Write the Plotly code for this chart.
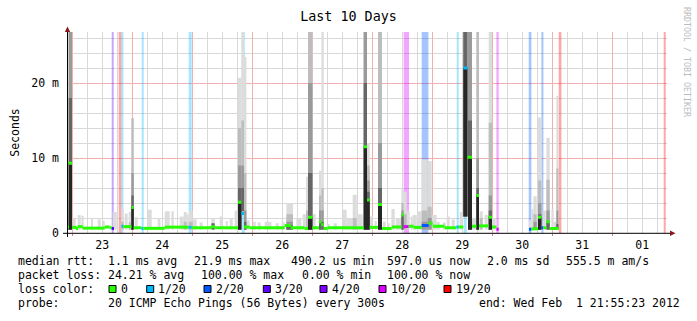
import pandas as pd
import plotly.graph_objects as go

# ---------------- geometry of the canvas ----------------
W, H = 697, 321
PL, PT, PW, PH = 67, 32, 600, 201          # plot area (px)
FONT = "DejaVu Sans Mono"

START = pd.Timestamp("2012-01-22 21:55:23")  # window start (end = +10 days)
SPAN_H = 240.0
Y_TOP_MS = 26.8

# ---------------- loss colour scale ----------------
loss_names = ["0", "1/20", "2/20", "3/20", "4/20", "10/20", "19/20"]
loss_colors = ["#26ff00", "#00b8ff", "#0059ff", "#5e00ff", "#7e00ff", "#dd00ff", "#ff0000"]

# ---------------- median rtt segments (hours since start, ms, loss index) ----------------
med_t0 = [0.0, 0.68, 2.0, 3.88, 4.28, 6.28, 15.08, 17.08, 17.88, 21.76,
          22.56, 25.76, 26.68, 29.76, 30.56, 39.08, 48.68, 49.88, 57.76, 59.08,
          68.4, 69.76, 70.8, 73.08, 87.08, 89.48, 95.08, 96.4, 98.16, 100.8,
          101.76, 102.68, 104.28, 118.68, 120.0, 121.08, 124.4, 126.0, 129.88, 133.76,
          134.68, 136.68, 138.68, 141.88, 144.68, 146.28, 151.08, 155.76, 156.68, 158.56,
          160.16, 162.0, 163.76, 164.8, 168.68, 170.0, 171.76, 184.8, 185.76, 188.4,
          189.76, 190.56, 191.76, 193.08]
med_t1 = [0.68, 2.0, 3.88, 4.28, 6.28, 15.08, 17.08, 17.88, 18.8, 22.56,
          25.76, 26.68, 29.76, 30.56, 39.08, 48.68, 49.88, 57.76, 59.08, 68.4,
          69.76, 70.8, 73.08, 87.08, 89.48, 95.08, 96.4, 98.16, 100.8, 101.76,
          102.68, 104.28, 118.68, 120.0, 121.08, 124.4, 126.0, 129.88, 133.76, 134.68,
          136.68, 138.68, 141.88, 144.68, 146.28, 151.08, 155.76, 156.68, 158.56, 160.16,
          162.0, 163.76, 164.8, 168.68, 170.0, 171.76, 172.68, 185.76, 188.4, 189.76,
          190.56, 191.76, 193.08, 196.68]
med_ms = [0.85, 9.3, 0.75, 0.6, 0.85, 0.65, 0.8, 0.7, 0.6, 0.9,
          0.85, 3.4, 0.7, 0.6, 0.62, 0.78, 0.75, 0.7, 0.85, 0.7,
          4.1, 2.6, 0.8, 0.7, 1.0, 0.7, 0.6, 2.1, 0.7, 1.5,
          1.1, 0.6, 0.7, 11.5, 4.4, 0.75, 3.8, 0.6, 0.8, 2.4,
          0.85, 0.9, 0.75, 1.0, 1.3, 0.9, 0.7, 0.8, 0.8, 22.0,
          10.1, 0.9, 5.0, 0.95, 2.1, 0.8, 0.5, 0.5, 0.55, 2.1,
          0.7, 0.7, 1.5, 0.6]
med_loss = [0, 0, 0, 0, 0, 0, 0, 0, 3, 1,
            0, 0, 0, 1, 0, 0, 1, 0, 0, 0,
            0, 1, 0, 0, 0, 0, 0, 0, 0, 0,
            0, 0, 0, 0, 0, 0, 0, 0, 0, 0,
            5, 0, 0, 2, 0, 0, 0, 1, 0, 1,
            0, 0, 0, 0, 0, 0, 5, 2, 0, 0,
            2, 0, 0, 0]

# ---------------- smoke columns (hours since start, ms levels) ----------------
smk_t0 = [0.0, 0.68, 2.28, 4.28, 5.76, 9.76, 12.28, 14.28, 18.28, 21.76,
          23.08, 24.68, 25.76, 27.08, 32.28, 36.28, 39.08, 41.76, 45.08, 46.68,
          47.88, 48.68, 50.28, 53.08, 57.76, 61.08, 63.48, 65.08, 67.08, 68.4,
          69.76, 70.8, 71.88, 74.28, 76.28, 79.08, 83.48, 85.88, 87.76, 91.76,
          94.28, 95.76, 96.4, 98.16, 100.8, 101.76, 103.88, 106.68, 110.28, 111.88,
          114.28, 115.88, 118.68, 120.0, 121.08, 123.08, 124.4, 126.28, 128.28, 129.76,
          131.48, 133.76, 134.68, 135.88, 137.48, 138.28, 140.28, 141.88, 144.28, 145.88,
          147.88, 150.28, 151.88, 153.88, 157.08, 158.56, 160.4, 162.0, 163.76, 165.08,
          167.08, 168.68, 170.0, 184.8, 185.76, 186.56, 188.4, 190.28, 191.76, 193.76,
          194.68, 195.76]
smk_t1 = [0.68, 2.0, 3.48, 5.48, 6.68, 10.4, 13.48, 15.08, 19.88, 22.68,
          24.28, 25.76, 26.68, 28.28, 33.88, 37.36, 41.08, 42.68, 46.68, 47.88,
          48.68, 50.28, 51.88, 54.28, 59.08, 62.28, 64.28, 66.28, 68.4, 69.76,
          70.8, 71.76, 73.08, 75.48, 77.48, 81.76, 84.68, 87.08, 90.4, 93.76,
          95.76, 96.4, 98.16, 99.48, 101.76, 102.68, 105.08, 107.88, 111.88, 114.28,
          115.88, 118.28, 120.0, 121.08, 122.28, 123.88, 126.0, 127.48, 129.08, 131.08,
          133.76, 134.68, 135.88, 137.08, 138.28, 139.88, 141.88, 144.28, 145.88, 147.88,
          149.08, 151.48, 153.08, 155.08, 158.28, 160.16, 162.0, 163.76, 164.8, 166.28,
          168.28, 170.0, 171.48, 185.76, 186.56, 187.88, 189.76, 191.48, 193.08, 194.68,
          195.76, 196.56]
smk_lo = [0.45, 0.45, 0.45, 0.45, 0.45, 0.45, 0.45, 0.45, 0.45, 0.45,
          0.45, 0.45, 0.45, 0.45, 0.45, 0.45, 0.45, 0.45, 0.45, 0.45,
          0.45, 0.45, 0.45, 0.45, 0.45, 0.45, 0.45, 0.45, 0.45, 0.45,
          2.9, 0.45, 0.45, 0.45, 0.45, 0.45, 0.45, 0.45, 0.45, 0.45,
          0.45, 0.45, 0.45, 0.45, 0.45, 0.45, 0.45, 0.45, 0.45, 0.45,
          0.45, 0.45, 0.45, 0.45, 0.45, 0.45, 0.45, 0.45, 0.45, 0.45,
          0.45, 0.45, 0.45, 0.45, 0.45, 0.45, 0.45, 0.45, 0.45, 0.45,
          0.45, 0.45, 0.45, 0.45, 0.45, 2.2, 0.45, 0.45, 0.45, 0.45,
          0.45, 0.45, 0.45, 0.45, 0.45, 0.45, 0.45, 0.45, 0.45, 0.45,
          0.45, 0.45]
smk_l1 = [3.1, 30, 1.9, 2.4, 2.3, 1.9, 1.8, 1.6, 2.8, 3.2,
          2.6, 2.8, 15.3, 2.1, 3.1, 2.0, 2.9, 2.9, 2.2, 2.8,
          2.5, 3.0, 1.8, 1.4, 2.0, 2.2, 1.6, 2.0, 3.0, 20.7,
          30, 23.5, 1.7, 1.5, 1.4, 1.5, 1.3, 1.4, 4.0, 2.0,
          2.5, 7.5, 30, 2.5, 8.3, 30, 1.2, 1.3, 3.1, 2.0,
          5.1, 2.5, 30, 12, 2.2, 1.6, 30, 1.5, 1.3, 3.2,
          2.0, 5.8, 5.5, 3.0, 2.2, 2.4, 2.9, 9.8, 9.6, 2.4,
          1.5, 1.4, 2.2, 1.8, 2.8, 30, 30, 1.9, 30, 2.9,
          2.4, 30, 2.0, 1.7, 3.2, 4.9, 15.4, 3.0, 12.7, 3.2,
          1.5, 18.3]
smk_l2 = [1.2, 30, 0, 0, 0, 0, 0, 0, 0, 1.5,
          0, 1.4, 15.3, 0, 0, 0, 0, 0, 0, 1.5,
          0, 1.5, 0, 0, 0, 0, 0, 0, 0, 14,
          15, 8, 0, 0, 0, 0, 0, 0, 2.5, 0,
          0, 3, 30, 0, 5, 6, 0, 0, 0, 0,
          2, 0, 30, 9, 0, 0, 30, 0, 0, 0,
          0, 4, 2.5, 0, 0, 0, 0, 3, 3.5, 0,
          0, 0, 0, 0, 0, 30, 30, 0, 30, 2.0,
          0, 14.7, 0, 0, 0, 2.5, 7, 0, 7.1, 0,
          0, 8.6]
smk_l3 = [0, 30, 0, 0, 0, 0, 0, 0, 0, 0,
          0, 0, 8, 0, 0, 0, 0, 0, 0, 0,
          0, 0, 0, 0, 0, 0, 0, 0, 0, 9,
          9, 3, 0, 0, 0, 0, 0, 0, 1.5, 0,
          0, 0, 20, 0, 3, 3, 0, 0, 0, 0,
          0, 0, 30, 7, 0, 0, 12, 0, 0, 0,
          0, 3, 0, 0, 0, 0, 0, 1.5, 2, 0,
          0, 0, 0, 0, 0, 30, 30, 0, 10, 0,
          0, 5, 0, 0, 0, 1.5, 4, 0, 3, 0,
          0, 3]
smk_l4 = [0, 18, 0, 0, 0, 0, 0, 0, 0, 0,
          0, 0, 5, 0, 0, 0, 0, 0, 0, 0,
          0, 0, 0, 0, 1.3, 0, 0, 0, 0, 6,
          6, 1.5, 0, 0, 0, 0, 0, 0, 1.0, 0,
          0, 0, 8, 0, 1.5, 1.5, 0, 0, 0, 0,
          0, 0, 20, 5.5, 0, 0, 6, 0, 0, 0,
          0, 2.4, 0, 0, 0, 0, 0, 0, 0, 0,
          0, 0, 0, 0, 0, 30, 15, 0, 6, 0,
          0, 3, 0, 0, 0, 0, 2.5, 0, 1.5, 0,
          0, 1.2]
smk_l5 = [0, 9.3, 0, 0, 0, 0, 0, 0, 0, 0,
          0, 0, 3.4, 0, 0, 0, 0, 0, 0, 0,
          0, 0, 0, 0, 0, 0, 0, 0, 0, 4.1,
          0, 0, 0, 0, 0, 0, 0, 0, 0, 0,
          0, 0, 2.1, 0, 0, 0, 0, 0, 0, 0,
          0, 0, 11.5, 4.4, 0, 0, 3.8, 0, 0, 0,
          0, 0, 0, 0, 0, 0, 0, 0, 0, 0,
          0, 0, 0, 0, 0, 22, 10.1, 0, 5, 0,
          0, 2.1, 0, 0, 0, 0, 2.1, 0, 0, 0,
          0, 0]
smoke_colors = ["#dcdcdc", "#bdbdbd", "#9a9a9a", "#666666", "#262626"]

# ---------------- loss background bands ----------------
lossbg_t0 = [17.88, 20.68, 21.76, 29.88, 48.68, 69.88, 134.68, 141.88, 155.88, 158.68,
             171.76, 184.68, 189.76, 196.68, 238.68]
lossbg_t1 = [18.68, 21.76, 22.56, 30.68, 49.88, 71.08, 136.8, 144.56, 156.68, 159.88,
             172.68, 185.76, 190.56, 197.76, 239.48]
lossbg_lvl = [3, 6, 1, 1, 1, 1, 5, 2, 1, 1, 5, 2, 2, 6, 6]

# ---------------- legend text ----------------
rtt_stats = [("median rtt:", 16.7), ("1.1 ms avg", 106.7), ("21.9 ms max", 193.3),
             ("490.2 us min", 290.0), ("597.0 us now", 385.7), ("2.0 ms sd", 485.7),
             ("555.5 m am/s", 565.0)]
loss_stats = [("packet loss:", 16.7), ("24.21 % avg", 106.7), ("100.00 % max", 200.0),
              ("0.00 % min", 300.5), ("100.00 % now", 385.7)]
probe_text = [("probe:", 16.7), ("20 ICMP Echo Pings (56 Bytes) every 300s", 106.7),
              ("end: Wed Feb\u00a0 1 21:55:23 2012", 478.3)]
legend_box_x = [109, 146.7, 204, 263.3, 320, 379, 444]

for arr in (smk_t1, smk_lo, smk_l1, smk_l2, smk_l3, smk_l4, smk_l5):
    assert len(arr) == len(smk_t0)
for arr in (med_t1, med_ms, med_loss):
    assert len(arr) == len(med_t0)


def T(h):
    return START + pd.Timedelta(hours=h)


def rgba(hexc, a):
    r, g, b = int(hexc[1:3], 16), int(hexc[3:5], 16), int(hexc[5:7], 16)
    return f"rgba({r},{g},{b},{a})"


def px(xp):
    return (xp - PL) / PW


def py(yp):
    return (PT + PH - yp) / PH


fig = go.Figure()

# loss background bars
fig.add_trace(go.Bar(
    x=[T((a + b) / 2) for a, b in zip(lossbg_t0, lossbg_t1)],
    y=[Y_TOP_MS * 1.2 / 1000 for _ in lossbg_t0],
    base=0,
    width=[(b - a) * 3.6e6 for a, b in zip(lossbg_t0, lossbg_t1)],
    marker=dict(color=[rgba(loss_colors[l], 0.35) for l in lossbg_lvl], line=dict(width=0)),
    showlegend=False, hoverinfo="skip"))

# smoke layers
for level, col in zip([smk_l1, smk_l2, smk_l3, smk_l4, smk_l5], smoke_colors):
    xs, ys, bs, ws = [], [], [], []
    for a, b, lo, top in zip(smk_t0, smk_t1, smk_lo, level):
        if top > lo:
            xs.append(T((a + b) / 2))
            bs.append(lo / 1000)
            ys.append((top - lo) / 1000)
            ws.append((b - a) * 3.6e6)
    fig.add_trace(go.Bar(x=xs, y=ys, base=bs, width=ws,
                         marker=dict(color=col, line=dict(width=0)),
                         showlegend=False, hoverinfo="skip"))

# median (loss coloured)
HALF = 0.2
fig.add_trace(go.Bar(
    x=[T((a + b) / 2) for a, b in zip(med_t0, med_t1)],
    y=[2 * HALF / 1000 for _ in med_ms],
    base=[(m - HALF) / 1000 for m in med_ms],
    width=[(b - a) * 3.6e6 for a, b in zip(med_t0, med_t1)],
    marker=dict(color=[loss_colors[l] for l in med_loss], line=dict(width=0)),
    showlegend=False, hoverinfo="skip"))

# carrier for the label axis
fig.add_trace(go.Scatter(x=[T(0), T(SPAN_H)], y=[None, None], xaxis="x2",
                         mode="markers", showlegend=False, hoverinfo="skip"))

tickfont = dict(family=FONT, size=11.5, color="black")
xr = [T(0), T(SPAN_H)]

shapes = []
# axis lines + arrows
shapes.append(dict(type="line", xref="paper", yref="paper", x0=px(63), x1=px(671),
                   y0=py(233.3), y1=py(233.3), line=dict(color="black", width=1)))
shapes.append(dict(type="line", xref="paper", yref="paper", x0=px(67.5), x1=px(67.5),
                   y0=py(237), y1=py(29), line=dict(color="black", width=1)))
shapes.append(dict(type="path", xref="paper", yref="paper",
                   path=f"M {px(670)},{py(230.5)} L {px(675.5)},{py(233.3)} L {px(670)},{py(236)} Z",
                   fillcolor="#8b1a1a", line=dict(width=0)))
shapes.append(dict(type="path", xref="paper", yref="paper",
                   path=f"M {px(64.8)},{py(32)} L {px(67.5)},{py(26.5)} L {px(70.2)},{py(32)} Z",
                   fillcolor="#8b1a1a", line=dict(width=0)))
# legend colour boxes
for bx, c in zip(legend_box_x, loss_colors):
    shapes.append(dict(type="rect", xref="paper", yref="paper",
                       x0=px(bx), x1=px(bx + 7), y0=py(292.5), y1=py(285.5),
                       fillcolor=c, line=dict(color="black", width=1)))

annotations = []


def add_text(t, x, y, size=11.5, color="black", angle=0, xanchor="left"):
    annotations.append(dict(text=t, x=px(x), y=py(y), xref="paper", yref="paper",
                            xanchor=xanchor, yanchor="middle", showarrow=False,
                            borderpad=0, textangle=angle,
                            font=dict(family=FONT, size=size, color=color)))


for t, x in rtt_stats:
    add_text(t, x, 261)
for t, x in loss_stats:
    add_text(t, x, 275)
add_text("loss color:", 16.7, 289)
for bx, name in zip(legend_box_x, loss_names):
    add_text(name, bx + 10.5, 289)
for t, x in probe_text:
    add_text(t, x, 303)
add_text("RRDTOOL / TOBI OETIKER", 687, 62, size=8.3, color="#bcbcbc", angle=90,
         xanchor="center")

fig.update_layout(
    width=W, height=H, autosize=False,
    margin=dict(l=PL, r=W - PL - PW, t=PT, b=H - PT - PH, pad=0),
    paper_bgcolor="white", plot_bgcolor="white",
    barmode="overlay", hovermode=False, showlegend=False,
    title=dict(text="Last 10 Days", x=0.5, xanchor="center", xref="container",
               y=1 - 16 / H, yanchor="middle", yref="container",
               font=dict(family=FONT, size=13.4, color="black")),
    xaxis=dict(type="date", range=xr, tick0="2012-01-23 00:00", dtick=86400000,
               showgrid=True, gridcolor="#f0b0b0", gridwidth=1,
               showticklabels=False, ticks="outside", ticklen=2, tickcolor="#d08080",
               zeroline=False, showline=False,
               minor=dict(tick0="2012-01-23 00:00", dtick=6 * 3600000, showgrid=True,
                          gridcolor="#d8d8d8", gridwidth=1, ticks="")),
    xaxis2=dict(type="date", range=xr, overlaying="x", anchor="y", side="bottom",
                tick0="2012-01-23 12:00", dtick=86400000, tickformat="%d",
                showgrid=False, zeroline=False, showline=False, ticks="",
                ticklabelstandoff=3, tickfont=tickfont),
    yaxis=dict(range=[0, Y_TOP_MS / 1000], tickmode="array", tickvals=[0, 0.01, 0.02],
               ticktext=["0", "10 m", "20 m"], showgrid=True, gridcolor="#f0b0b0",
               gridwidth=1, zeroline=False, showline=False, ticks="",
               ticklabelstandoff=7, tickfont=tickfont,
               minor=dict(tickmode="linear", tick0=0, dtick=0.002, showgrid=True,
                          gridcolor="#d8d8d8", gridwidth=1, ticks=""),
               title=dict(text="Seconds", standoff=9,
                          font=dict(family=FONT, size=11.5, color="black"))),
    shapes=shapes,
    annotations=annotations,
)

fig.write_html("out.html", config={"displayModeBar": False})
